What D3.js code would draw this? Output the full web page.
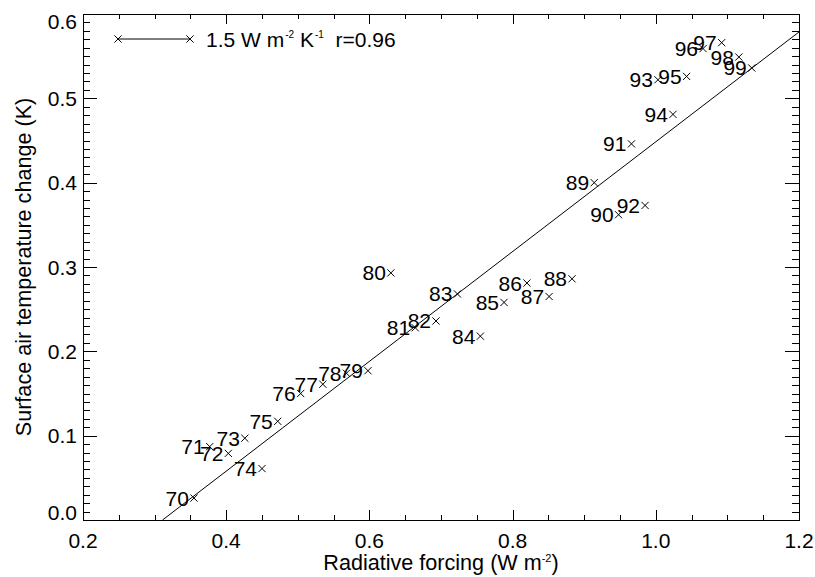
<!DOCTYPE html>
<html>
<head>
<meta charset="utf-8">
<script src="https://cdn.jsdelivr.net/npm/d3@7"></script>
<style>
  html, body { margin: 0; padding: 0; background: #fff; }
  svg { display: block; font-family: "Liberation Sans", Arial, Helvetica, sans-serif; }
  text { fill: #000; }
</style>
</head>
<body>
<svg id="chart" width="815" height="577"></svg>
<script>
// Year labels (19xx) and the matching forcing / temperature values
const years = ["70","71","72","73","74","75","76","77","78","79",
               "80","81","82","83","84","85","86","87","88","89",
               "90","91","92","93","94","95","96","97","98","99"];
const forcing = [0.355,0.377,0.403,0.426,0.450,0.472,0.504,0.535,0.568,0.598,
                 0.630,0.664,0.693,0.723,0.755,0.788,0.820,0.851,0.883,0.914,
                 0.948,0.966,0.985,1.003,1.024,1.043,1.066,1.092,1.116,1.134];
const tempChange = [0.026,0.087,0.079,0.097,0.061,0.117,0.150,0.161,0.174,0.177,
                    0.293,0.228,0.236,0.268,0.218,0.258,0.281,0.265,0.286,0.400,
                    0.362,0.446,0.373,0.522,0.481,0.526,0.559,0.566,0.549,0.536];

// Linear fit: temperature = slope * forcing + intercept
const fitSlope = 0.651;
const fitIntercept = -0.2025;

// Axis ticks
const xMajorTicks = [0.2, 0.4, 0.6, 0.8, 1.0, 1.2];
const yMajorTicks = [0.0, 0.1, 0.2, 0.3, 0.4, 0.5, 0.6];
const legendLabel = ["1.5 W m", "-2", " K", "-1", "  r=0.96"];

const svg = d3.select("#chart");
const pLeft = 83, pRight = 799, pTop = 14, pBottom = 520;
const x = d3.scaleLinear().domain([0.2, 1.2]).range([pLeft, pRight]);
const y = d3.scaleLinear().domain([0, 0.6]).range([pBottom, pTop]);

const xMinor = d3.range(0.2, 1.2001, 0.05).map(v => +v.toFixed(2)).filter(v => !xMajorTicks.some(t => Math.abs(t - v) < 1e-6));
const yMinor = d3.range(0, 0.6001, 0.01).map(v => +v.toFixed(2)).filter(v => !yMajorTicks.some(t => Math.abs(t - v) < 1e-6));

const FS = 21;
const TITLE_FS = 21.6;

// tick marks on all four sides, pointing inward
function ticks(axisFn, scale, values, size, transform) {
  svg.append("g")
    .attr("transform", transform)
    .call(axisFn(scale).tickValues(values).tickSize(-size).tickSizeOuter(0).tickFormat(""))
    .call(g => g.select(".domain").remove())
    .call(g => g.selectAll("line").attr("stroke", "#000").attr("stroke-width", 1).attr("shape-rendering", "crispEdges"));
}
ticks(d3.axisBottom, x, xMajorTicks, 10, `translate(0,${pBottom})`);
ticks(d3.axisBottom, x, xMinor, 5, `translate(0,${pBottom})`);
ticks(d3.axisTop, x, xMajorTicks, 10, `translate(0,${pTop})`);
ticks(d3.axisTop, x, xMinor, 5, `translate(0,${pTop})`);
ticks(d3.axisLeft, y, yMajorTicks, 14, `translate(${pLeft},0)`);
ticks(d3.axisLeft, y, yMinor, 7, `translate(${pLeft},0)`);
ticks(d3.axisRight, y, yMajorTicks, 14, `translate(${pRight},0)`);
ticks(d3.axisRight, y, yMinor, 7, `translate(${pRight},0)`);

// frame
svg.append("rect")
  .attr("x", pLeft + 0.5).attr("y", pTop + 0.5)
  .attr("width", pRight - pLeft).attr("height", pBottom - pTop)
  .attr("fill", "none").attr("stroke", "#000").attr("stroke-width", 1);

// tick labels
const fmt = d3.format(".1f");
svg.append("g").selectAll("text").data(xMajorTicks).join("text")
  .attr("x", d => x(d)).attr("y", 548)
  .attr("text-anchor", "middle").attr("font-size", FS)
  .text(fmt);

// y labels centred on their ticks, kept inside the frame's height
const capH = FS * 0.716;
svg.append("g").selectAll("text").data(yMajorTicks).join("text")
  .attr("x", pLeft - 6)
  .attr("y", d => {
    const c = Math.min(Math.max(y(d), pTop + capH / 2), pBottom - capH / 2);
    return c + capH / 2;
  })
  .attr("text-anchor", "end").attr("font-size", FS)
  .text(fmt);

// axis titles
const xt = svg.append("text")
  .attr("x", (pLeft + pRight) / 2).attr("y", 570)
  .attr("text-anchor", "middle").attr("font-size", TITLE_FS);
xt.append("tspan").text("Radiative forcing (W m");
xt.append("tspan").attr("font-size", 11).attr("dy", -8).text("-2");
xt.append("tspan").attr("dy", 8).text(")");

svg.append("text")
  .attr("transform", `translate(31,${(pTop + pBottom) / 2}) rotate(-90)`)
  .attr("text-anchor", "middle").attr("font-size", TITLE_FS)
  .text("Surface air temperature change (K)");

// plot area clip for the fit line
svg.append("clipPath").attr("id", "plotClip")
  .append("rect").attr("x", pLeft).attr("y", pTop).attr("width", pRight - pLeft).attr("height", pBottom - pTop);

const fitX0 = -fitIntercept / fitSlope;
const fitX1 = 1.2;
svg.append("line")
  .attr("clip-path", "url(#plotClip)")
  .attr("x1", x(fitX0)).attr("y1", y(fitSlope * fitX0 + fitIntercept))
  .attr("x2", x(fitX1)).attr("y2", y(fitSlope * fitX1 + fitIntercept))
  .attr("stroke", "#000").attr("stroke-width", 1);

// cross marker
function cross(g, cx, cy) {
  const r = 3.6;
  g.append("path")
    .attr("d", `M${cx - r},${cy - r}L${cx + r},${cy + r}M${cx - r},${cy + r}L${cx + r},${cy - r}`)
    .attr("stroke", "#000").attr("stroke-width", 1).attr("fill", "none");
}

// points with year labels
const pts = svg.append("g");
years.forEach((yr, i) => {
  const px = x(forcing[i]), py = y(tempChange[i]);
  cross(pts, px, py);
  pts.append("text")
    .attr("x", px - 5).attr("y", py + 7.5)
    .attr("text-anchor", "end").attr("font-size", FS)
    .text(yr);
});

// legend
const lg = svg.append("g");
lg.append("line").attr("x1", 118).attr("y1", 39).attr("x2", 190).attr("y2", 39)
  .attr("stroke", "#000").attr("stroke-width", 1);
cross(lg, 118, 39);
cross(lg, 190, 39);
const lt = lg.append("text").attr("x", 206).attr("y", 46.5).attr("font-size", FS)
  .style("white-space", "pre");
lt.append("tspan").text(legendLabel[0]);
lt.append("tspan").attr("font-size", 10).attr("dy", -9).attr("dx", 1).text(legendLabel[1]);
lt.append("tspan").attr("dy", 9).text(legendLabel[2]);
lt.append("tspan").attr("font-size", 10).attr("dy", -9).attr("dx", 1).text(legendLabel[3]);
lt.append("tspan").attr("dy", 9).text(legendLabel[4]);
</script>
</body>
</html>
